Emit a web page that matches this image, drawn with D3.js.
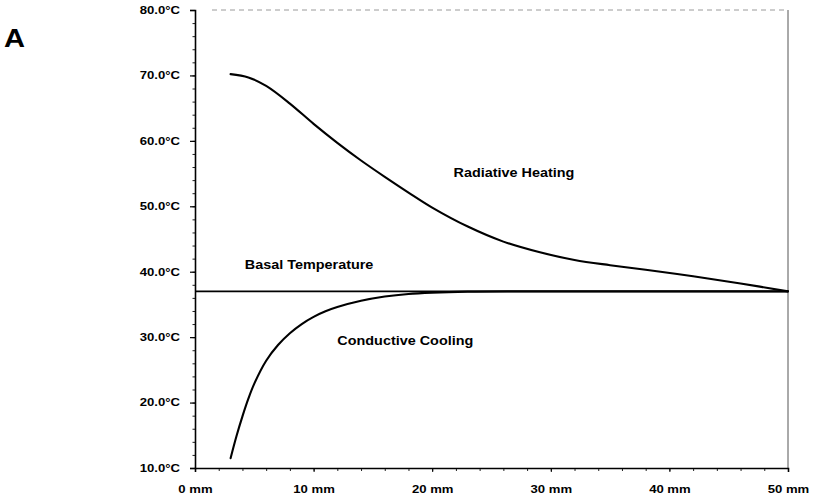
<!DOCTYPE html>
<html>
<head>
<meta charset="utf-8">
<script src="https://cdn.jsdelivr.net/npm/d3@7"></script>
<style>
  html, body { margin: 0; padding: 0; background: #fff; }
  svg { display: block; font-family: "Liberation Sans", Arial, sans-serif; }
</style>
</head>
<body>
<svg id="chart" width="813" height="499"></svg>
<script>
// Distance from the heat source (mm) and resulting tissue temperature (°C)
const radiativeDist = [3, 4.5, 6, 8, 10, 12, 14, 16, 18, 20, 23, 26, 29, 32, 35, 38, 42, 46, 50];
const radiativeTemp = [70.2, 69.7, 68.4, 65.7, 62.6, 59.7, 57.0, 54.5, 52.1, 49.8, 46.9, 44.6, 43.0, 41.8, 41.0, 40.3, 39.3, 38.2, 37.0];

const coolingDist = [3, 3.5, 4, 4.5, 5, 6, 7, 8, 9, 10, 11, 12, 14, 16, 18, 20, 23, 27, 35, 50];
const coolingTemp = [11.5, 14.9, 17.9, 20.6, 22.9, 26.4, 28.8, 30.6, 32.0, 33.1, 33.95, 34.6, 35.55, 36.2, 36.6, 36.8, 36.95, 37.0, 37.0, 37.0];

const basalTemp = 37.0;

const xTickValues = [0, 10, 20, 30, 40, 50];
const xTickLabels = ["0 mm", "10 mm", "20 mm", "30 mm", "40 mm", "50 mm"];
const yTickValues = [10, 20, 30, 40, 50, 60, 70, 80];
const yTickLabels = ["10.0°C", "20.0°C", "30.0°C", "40.0°C", "50.0°C", "60.0°C", "70.0°C", "80.0°C"];

const panelLetter = "A";
const labelTexts = ["Radiative Heating", "Basal Temperature", "Conductive Cooling"];
const labelDist = [21.8, 4.2, 12.0];
const labelTemp = [54.5, 40.4, 28.8];

// ---- layout ----
const W = 813, H = 499;
const margin = { top: 10, right: 25, bottom: 31, left: 195 };
const svg = d3.select("#chart");

const x = d3.scaleLinear().domain([0, 50]).range([margin.left, W - margin.right]);
const y = d3.scaleLinear().domain([10, 80]).range([H - margin.bottom, margin.top]);

// plot frame: faint top edge and thin right edge
svg.append("line")
  .attr("x1", x(0) + 17).attr("x2", x(50))
  .attr("y1", y(80)).attr("y2", y(80))
  .attr("stroke", "#9a9a9a").attr("stroke-width", 1)
  .attr("stroke-dasharray", "5,4");
svg.append("line")
  .attr("x1", x(50)).attr("x2", x(50))
  .attr("y1", y(80)).attr("y2", y(10))
  .attr("stroke", "#555").attr("stroke-width", 1);

// ---- axes ----
const yAxisG = svg.append("g").attr("transform", `translate(${x(0)},0)`);
yAxisG.call(d3.axisLeft(y).tickValues(d3.range(10, 80.01, 2)).tickSize(2.5).tickFormat(""));
yAxisG.call(g => g.selectAll(".tick line").attr("stroke", "#222"));
yAxisG.call(g => g.select(".domain").remove());
const yMajor = svg.append("g").attr("transform", `translate(${x(0)},0)`)
  .call(d3.axisLeft(y).tickValues(yTickValues).tickSize(5).tickPadding(10)
    .tickFormat((d, i) => yTickLabels[i]));
yMajor.select(".domain").attr("stroke", "#000").attr("stroke-width", 1.6);
yMajor.selectAll(".tick line").attr("stroke", "#000").attr("stroke-width", 1.2);
yMajor.selectAll(".tick text")
  .attr("font-size", 10.5).attr("font-weight", "bold").attr("fill", "#000")
  .attr("font-family", "'Liberation Sans', Arial, sans-serif")
  .each(function () {
    const t = d3.select(this);
    const tx = +t.attr("x");
    t.attr("x", 0).attr("transform", `translate(${tx},0) scale(1.25,1)`);
  });

const xAxisG = svg.append("g").attr("transform", `translate(0,${y(10)})`);
xAxisG.call(d3.axisBottom(x).tickValues(d3.range(0, 50.01, 2)).tickSize(3).tickFormat(""));
xAxisG.call(g => g.selectAll(".tick line").attr("stroke", "#222"));
xAxisG.call(g => g.select(".domain").remove());
const xMajor = svg.append("g").attr("transform", `translate(0,${y(10)})`)
  .call(d3.axisBottom(x).tickValues(xTickValues).tickSize(4).tickPadding(14)
    .tickFormat((d, i) => xTickLabels[i]));
xMajor.select(".domain").attr("stroke", "#000").attr("stroke-width", 1.6);
xMajor.selectAll(".tick line").attr("stroke", "#000");
xMajor.selectAll(".tick text")
  .attr("font-size", 10.5).attr("font-weight", "bold").attr("fill", "#000")
  .attr("font-family", "'Liberation Sans', Arial, sans-serif")
  .each(function () {
    const t = d3.select(this);
    const ty = +t.attr("y");
    t.attr("y", 0).attr("transform", `translate(0,${ty}) scale(1.25,1)`);
  });

// ---- basal temperature line ----
svg.append("line")
  .attr("x1", x(0)).attr("x2", x(50))
  .attr("y1", y(basalTemp)).attr("y2", y(basalTemp))
  .attr("stroke", "#000").attr("stroke-width", 1.6);

// ---- curves ----
const line = d3.line()
  .x(d => x(d[0])).y(d => y(d[1]))
  .curve(d3.curveCatmullRom.alpha(0.5));

svg.append("path")
  .datum(d3.zip(radiativeDist, radiativeTemp))
  .attr("d", line)
  .attr("fill", "none").attr("stroke", "#000").attr("stroke-width", 2.1)
  .attr("stroke-linecap", "round");

svg.append("path")
  .datum(d3.zip(coolingDist, coolingTemp))
  .attr("d", line)
  .attr("fill", "none").attr("stroke", "#000").attr("stroke-width", 2.1)
  .attr("stroke-linecap", "round");

// ---- annotations ----
labelTexts.forEach((txt, i) => {
  svg.append("text")
    .attr("transform", `translate(${x(labelDist[i])},${y(labelTemp[i])}) scale(1.2,1)`)
    .attr("font-size", 12).attr("font-weight", "bold").attr("fill", "#000")
    .text(txt);
});

svg.append("text")
  .attr("transform", "translate(4,47) scale(1.12,1)")
  .attr("font-size", 26).attr("font-weight", "bold").attr("fill", "#000")
  .text(panelLetter);
</script>
</body>
</html>
